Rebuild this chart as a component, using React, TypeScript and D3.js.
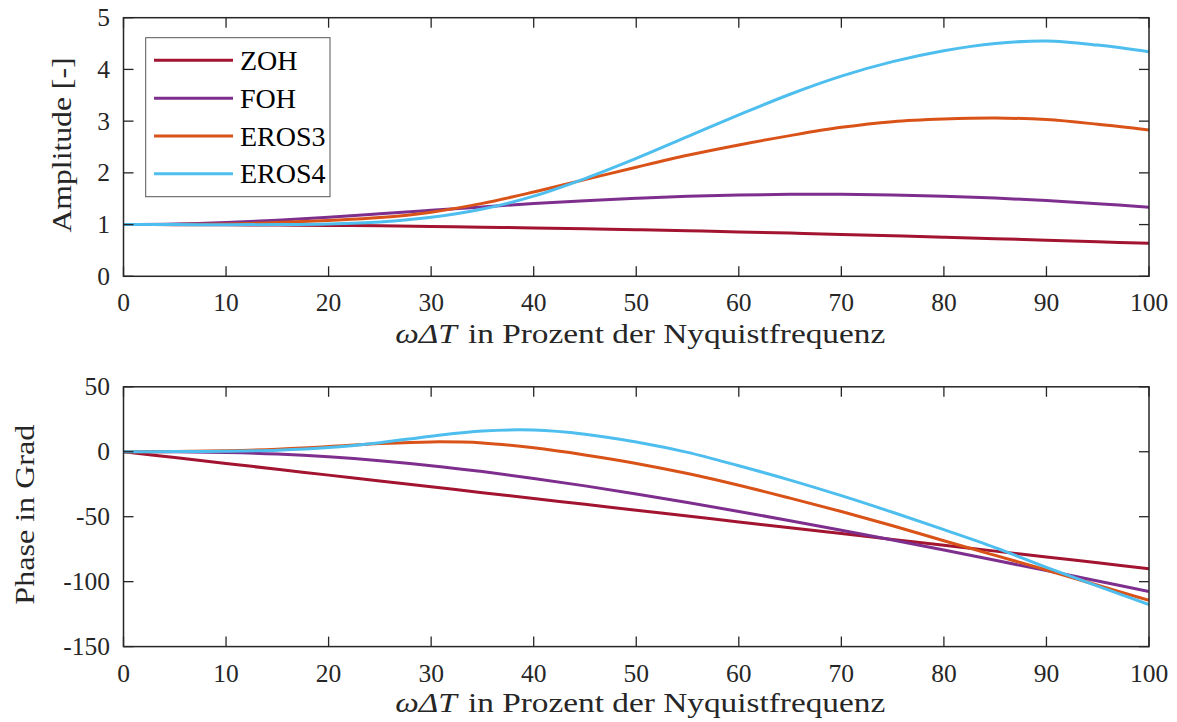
import React from 'react';
import * as d3 from 'd3';

// Frequency in percent of the Nyquist frequency
const percent = [0, 5, 10, 15, 20, 25, 30, 35, 40, 45, 50, 55, 60, 65, 70, 75, 80, 85, 90, 95, 100];

// Amplitude response [-]
const ampZOH = [1, 0.999, 0.996, 0.991, 0.984, 0.975, 0.963, 0.95, 0.935, 0.919, 0.9, 0.88, 0.858, 0.835, 0.81, 0.784, 0.757, 0.728, 0.699, 0.668, 0.637];
const ampFOH = [1, 1.01, 1.04, 1.085, 1.143, 1.208, 1.275, 1.342, 1.406, 1.462, 1.509, 1.547, 1.572, 1.586, 1.586, 1.574, 1.549, 1.512, 1.464, 1.405, 1.336];
const ampEROS3 = [1, 1.003, 1.012, 1.04, 1.08, 1.135, 1.24, 1.41, 1.63, 1.87, 2.11, 2.34, 2.54, 2.72, 2.88, 2.99, 3.04, 3.06, 3.03, 2.94, 2.83];
const ampEROS4 = [1, 1.0, 0.998, 1.0, 1.012, 1.05, 1.14, 1.3, 1.55, 1.89, 2.28, 2.7, 3.12, 3.52, 3.87, 4.15, 4.36, 4.5, 4.55, 4.47, 4.34];

// Phase response [deg]
const phaseZOH = [0, -4.5, -9, -13.5, -18, -22.5, -27, -31.5, -36, -40.5, -45, -49.5, -54, -58.5, -63, -67.5, -72, -76.5, -81, -85.5, -90];
const phaseFOH = [0, -0.07, -0.56, -1.77, -3.86, -6.85, -10.69, -15.29, -20.51, -26.28, -32.48, -39.06, -45.95, -53.09, -60.45, -67.99, -75.7, -83.53, -91.48, -99.52, -107.66];
const phaseEROS3 = [0, 0.2, 0.8, 2.0, 4.0, 6.3, 7.6, 6.8, 3.0, -2.5, -9.0, -16.8, -25.8, -35.7, -46.0, -57, -68.5, -79.8, -91, -102.8, -114.4];
const phaseEROS4 = [0, 0.1, 0.4, 1.2, 3.2, 7.0, 12.0, 16.0, 16.7, 13.5, 7.5, -0.5, -10.8, -21.8, -33.8, -46.6, -60, -73.8, -89, -103.4, -117.7];

const seriesNames = ['ZOH', 'FOH', 'EROS3', 'EROS4'];
const seriesColors = ['#A2142F', '#7E2F8E', '#D95319', '#4DBEEE'];

const xTicks = [0, 10, 20, 30, 40, 50, 60, 70, 80, 90, 100];
const ampTicks = [0, 1, 2, 3, 4, 5];
const phaseTicks = [-150, -100, -50, 0, 50];

const FONT = '"Liberation Serif", "Times New Roman", serif';
const INK = '#262626';

const W = 1177;
const H = 722;
const LEFT = 123.5;
const RIGHT = 1149;
const TICK = 10;

const x = d3.scaleLinear().domain([0, 100]).range([LEFT, RIGHT]);

function XLabel({ y }: { y: number }) {
  return (
    <text x={(LEFT + RIGHT) / 2 + 4} y={y} textAnchor="middle" fontFamily={FONT} fontSize={27} fill={INK}
      textLength={490} lengthAdjust="spacingAndGlyphs">
      <tspan fontStyle="italic">ωΔT</tspan>
      <tspan dx={9}>in Prozent der Nyquistfrequenz</tspan>
    </text>
  );
}

interface PanelProps {
  id: string;
  top: number;
  bottom: number;
  domain: [number, number];
  yTicks: number[];
  series: number[][];
  yLabel: string;
  yLabelX: number;
  yLabelLen: number;
}

function Panel({ id, top, bottom, domain, yTicks, series, yLabel, yLabelX, yLabelLen }: PanelProps) {
  const y = d3.scaleLinear().domain(domain).range([bottom, top]);
  const line = d3
    .line<number>()
    .x((_, i) => x(percent[i]))
    .y((v) => y(v))
    .curve(d3.curveCatmullRom.alpha(0.5));
  return (
    <g>
      <defs>
        <clipPath id={id}>
          <rect x={LEFT} y={top} width={RIGHT - LEFT} height={bottom - top} />
        </clipPath>
      </defs>
      <g clipPath={`url(#${id})`}>
        {series.map((vals, i) => (
          <path key={seriesNames[i]} d={line(vals) ?? ''} fill="none" stroke={seriesColors[i]}
            strokeWidth={3} strokeLinejoin="round" strokeLinecap="butt" />
        ))}
      </g>
      {xTicks.map((t) => (
        <g key={`x${t}`}>
          <line x1={x(t)} x2={x(t)} y1={bottom} y2={bottom - TICK} stroke={INK} strokeWidth={1.3} />
          <line x1={x(t)} x2={x(t)} y1={top} y2={top + TICK} stroke={INK} strokeWidth={1.3} />
          <text x={x(t)} y={bottom + 35} textAnchor="middle" fontFamily={FONT} fontSize={25.5} fill={INK}>{t}</text>
        </g>
      ))}
      {yTicks.map((t) => (
        <g key={`y${t}`}>
          <line x1={LEFT} x2={LEFT + TICK} y1={y(t)} y2={y(t)} stroke={INK} strokeWidth={1.3} />
          <line x1={RIGHT} x2={RIGHT - TICK} y1={y(t)} y2={y(t)} stroke={INK} strokeWidth={1.3} />
          <text x={110} y={y(t) + 8.5} textAnchor="end" fontFamily={FONT} fontSize={25.5} fill={INK}>{t}</text>
        </g>
      ))}
      <rect x={LEFT} y={top} width={RIGHT - LEFT} height={bottom - top} fill="none" stroke={INK} strokeWidth={1.5} />
      <text transform={`translate(${yLabelX},${(top + bottom) / 2 - 2}) rotate(-90)`} textAnchor="middle"
        fontFamily={FONT} fontSize={27} fill={INK} textLength={yLabelLen} lengthAdjust="spacingAndGlyphs">{yLabel}</text>
    </g>
  );
}

function Legend() {
  const rows = [60.3, 98.3, 136, 173.7];
  return (
    <g>
      <rect x={145.7} y={37.7} width={184.3} height={159} fill="#ffffff" stroke="#555555" strokeWidth={1} />
      {seriesNames.map((name, i) => (
        <g key={name}>
          <line x1={154} x2={233} y1={rows[i]} y2={rows[i]} stroke={seriesColors[i]} strokeWidth={3} />
          <text x={240} y={rows[i] + 9.5} fontFamily={FONT} fontSize={28} fill="#000000">{name}</text>
        </g>
      ))}
    </g>
  );
}

export default function App() {
  return (
    <svg width={W} height={H} viewBox={`0 0 ${W} ${H}`}
      style={{ position: 'absolute', left: 0, top: 0, background: '#ffffff' }}>
      <rect x={0} y={0} width={W} height={H} fill="#ffffff" />
      <Panel id="clip-amp" top={17.7} bottom={276.3} domain={[0, 5]} yTicks={ampTicks}
        series={[ampZOH, ampFOH, ampEROS3, ampEROS4]} yLabel="Amplitude [-]" yLabelX={71} yLabelLen={175} />
      <XLabel y={343} />
      <Legend />
      <Panel id="clip-phase" top={386.8} bottom={646.6} domain={[-150, 50]} yTicks={phaseTicks}
        series={[phaseZOH, phaseFOH, phaseEROS3, phaseEROS4]} yLabel="Phase in Grad" yLabelX={34} yLabelLen={180} />
      <XLabel y={712} />
    </svg>
  );
}
